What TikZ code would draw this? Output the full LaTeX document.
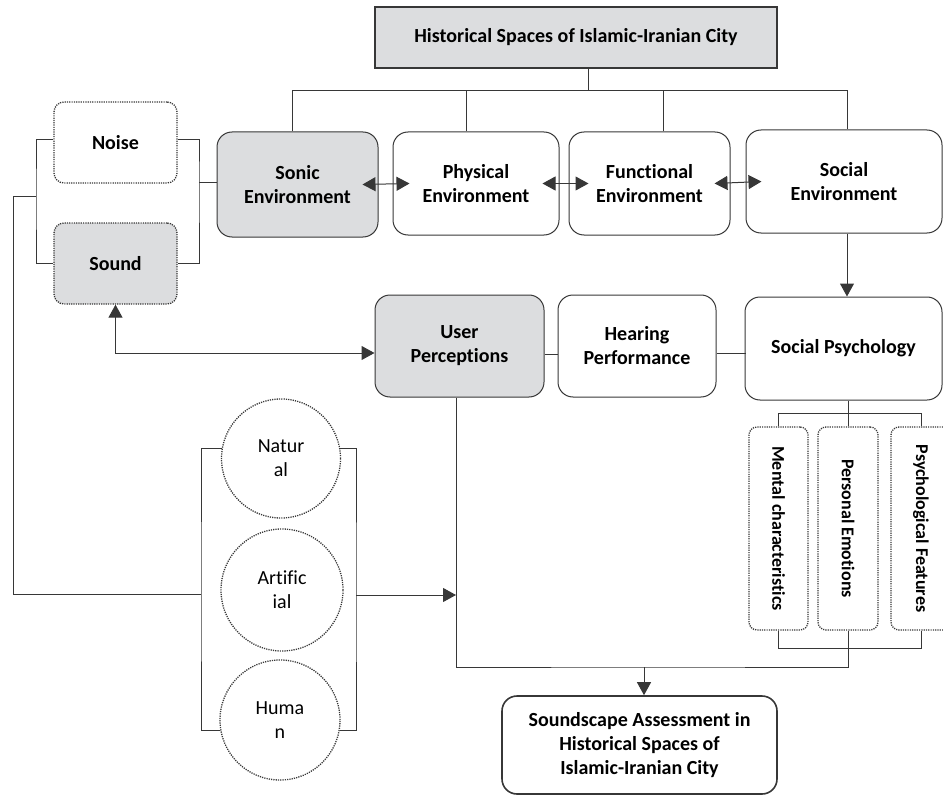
\documentclass[tikz,border=0pt]{standalone}
\usepackage{fontspec}
\setmainfont[Ligatures=NoCommon]{Carlito}
\usetikzlibrary{arrows.meta,calc}
\definecolor{boxgray}{RGB}{220,221,223}
\definecolor{linegray}{RGB}{55,55,55}
\tikzset{every picture/.style={line width=1pt}}
\tikzset{
	box/.style={draw=linegray, rounded corners=15pt, align=center, inner sep=0pt, font=\bfseries\fontsize{20}{24}\selectfont},
	dotbox/.style={draw=linegray, line width=1.3pt, dash pattern=on 1.2pt off 1.1pt, rounded corners=10pt, align=center, inner sep=0pt, font=\bfseries\fontsize{20}{24}\selectfont},
	dotcircle/.style={circle, draw=linegray, line width=1.3pt, dash pattern=on 1.2pt off 1.1pt, minimum size=120pt, align=center, inner sep=0pt, font=\fontsize{20}{24}\selectfont},
	conn/.style={draw=linegray},
	arr/.style={conn, -{Triangle[length=13pt,width=14pt]}},
	dblarr/.style={conn, {Triangle[length=13pt,width=14pt]}-{Triangle[length=13pt,width=14pt]}}}

\begin{document}
\begin{tikzpicture}[x=1pt,y=1pt,yscale=-1,xscale=1]
	\useasboundingbox (0,0) rectangle (943,797);

	%Shape: Rectangle [title]
	\node[draw=linegray, line width=1.6pt, fill=boxgray, minimum width=402pt, minimum height=61pt, font=\bfseries\fontsize{20}{24}\selectfont] (title) at (576,37.5) {Historical Spaces of Islamic-Iranian City};

	%Shape: Rounded Rectangles [environments]
	\node[box, fill=boxgray, minimum width=161pt, minimum height=105pt] (sonic) at (297.5,184.5) {Sonic\\Environment};
	\node[box, minimum width=166pt, minimum height=103pt] (physical) at (476,183.5) {Physical\\Environment};
	\node[box, minimum width=161pt, minimum height=103pt] (functional) at (649.5,183.5) {Functional\\Environment};
	\node[box, minimum width=196pt, minimum height=103pt] (socialenv) at (844,181.5) {Social\\Environment};

	%Shape: Dotted Rectangles [noise, sound]
	\node[dotbox, minimum width=123pt, minimum height=81pt] (noise) at (115.5,142.5) {Noise};
	\node[dotbox, fill=boxgray, minimum width=123pt, minimum height=81pt] (sound) at (115.5,263.5) {Sound};

	%Shape: Rounded Rectangles [second row]
	\node[box, fill=boxgray, minimum width=169pt, minimum height=102pt] (user) at (459.5,346) {User\\Perceptions};
	\node[box, minimum width=158pt, minimum height=102pt] (hearing) at (637,346) {Hearing\\Performance};
	\node[box, minimum width=197pt, minimum height=103pt] (socpsy) at (843.5,348.5) {Social Psychology};

	%Shape: Dotted Rectangles [vertical]
	\node[dotbox, rounded corners=8pt, minimum width=59pt, minimum height=203pt] (mental) at (778.5,528.5) {\rotatebox{-90}{\fontsize{18}{22}\selectfont Mental characteristics}};
	\node[dotbox, rounded corners=8pt, minimum width=60pt, minimum height=203pt] (personal) at (848,528.5) {\rotatebox{-90}{\fontsize{18}{22}\selectfont Personal Emotions}};
	\node[dotbox, rounded corners=8pt, minimum width=60pt, minimum height=203pt] (psychf) at (921,528.5) {\rotatebox{-90}{\fontsize{18}{22}\selectfont Psychological Features}};

	%Shape: Circles [sources]
	\node[dotcircle, minimum size=119pt] (natural) at (281,458.5) {Natur\\al};
	\node[dotcircle, minimum size=122pt] (artificial) at (282,590) {Artific\\ial};
	\node[dotcircle] (human) at (280,720) {Huma\\n};

	%Shape: Rounded Rectangle [result]
	\node[box, line width=1.6pt, minimum width=275pt, minimum height=98pt] (soundscape) at (639.5,745) {Soundscape Assessment in\\Historical Spaces of\\Islamic-Iranian City};

	% Joints
	\coordinate (topbus) at (588,91);
	\coordinate (lbr) at (36,197);
	\coordinate (rbr) at (199,183);
	\coordinate (cl) at (201,594);
	\coordinate (cr) at (356,595);
	\coordinate (ubot) at ([xshift=-3.5]user.south);
	\coordinate (sjoin) at (644,667);

	%Straight Lines [top tree]
	\draw[conn] (title.south -| topbus) -- (topbus);
	\draw[conn] ([xshift=-5.5]sonic.north) |- ([xshift=3.5]socialenv.north |- topbus) -- ([xshift=3.5]socialenv.north);
	\foreach \n/\dx in {physical/-10, functional/13.5}
		\draw[conn] ([xshift=\dx]\n.north) -- ([xshift=\dx]\n.north |- topbus);

	%Straight Lines [double arrows]
	\draw[dblarr] ([xshift=-16]sonic.east) -- ([xshift=17]physical.west);
	\draw[dblarr] ([xshift=-17]physical.east) -- ([xshift=20]functional.west);
	\draw[dblarr] ([xshift=-16]functional.east) -- ([xshift=16]socialenv.west);

	%Straight Lines [noise and sound]
	\draw[conn] ($(noise.west)+(0,-3)$) -| (lbr) |- (sound.west);
	\draw[conn] ($(noise.east)+(0,-3)$) -| (rbr) |- (sound.east);
	\draw[conn] (rbr) -- (rbr -| sonic.west);
	\draw[dblarr] (sound.south) |- ($(user.west)+(0,7)$);

	%Straight Lines [second row]
	\draw[conn] ($(user.east)+(0,8)$) -- ($(hearing.west)+(0,8)$);
	\draw[conn] ($(hearing.east)+(0,7)$) -- ++(29,0);
	\draw[arr] ([xshift=3]socialenv.south) -- ([xshift=3]socialenv.south |- socpsy.north);

	%Straight Lines [social psychology]
	\draw[conn] (socpsy.south -| personal.north) -- (personal.north);
	\draw[conn] (mental.north) -- ++(0,-13) -| (psychf.north);
	\draw[conn] (mental.south) -- ++(0,18) -| (psychf.south);

	%Straight Lines [sources]
	\draw[conn] (natural.170) -| (cl) |- (human.190);
	\draw[conn] (natural.10) -| (cr) |- (human.350);
	\draw[conn] (cl) -- (13,594) |- (lbr);
	\draw[arr] (cr) -- (cr -| ubot);

	%Straight Lines [assessment]
	\draw[conn] (ubot) |- (sjoin) -| (personal.south);
	\draw[arr] (sjoin) -- (sjoin |- soundscape.north);

\end{tikzpicture}
\end{document}
